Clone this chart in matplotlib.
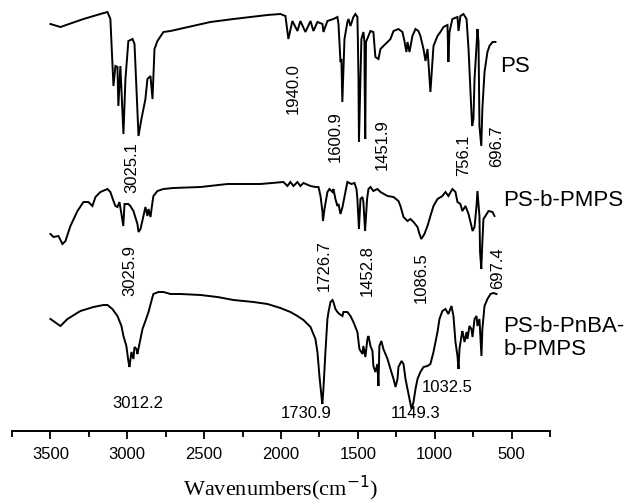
import matplotlib
matplotlib.use("Agg")
import matplotlib.pyplot as plt
from matplotlib.ticker import MultipleLocator

plt.rcParams['font.family'] = ['Liberation Sans', 'DejaVu Sans']

# ---------------- data (wavenumber cm^-1, transmittance a.u., stacked) ----------------
ps_w = [3500, 3435, 3285, 3175, 3129, 3110, 3090, 3077, 3064, 3058, 3045, 3025, 3012, 2993,
        2966, 2953, 2927, 2908, 2882, 2869, 2849, 2836, 2830, 2823, 2804, 2765, 2719, 2459,
        2309, 2088, 2004, 1971, 1952, 1926, 1893, 1874, 1841, 1808, 1789, 1763, 1730, 1724,
        1698, 1659, 1633, 1626, 1613, 1607, 1601, 1587, 1568, 1561, 1548, 1529, 1516, 1503,
        1500, 1496, 1493, 1477, 1464, 1457, 1456, 1452, 1447, 1418, 1399, 1386, 1366, 1353,
        1334, 1307, 1288, 1268, 1236, 1210, 1197, 1184, 1177, 1164, 1145, 1125, 1106, 1093,
        1073, 1060, 1047, 1041, 1028, 1015, 1008, 982, 963, 943, 917, 911, 904, 885, 852,
        845, 833, 813, 793, 780, 760, 756, 748, 741, 728, 722, 715, 709, 697, 690, 676, 657,
        644, 624, 605]
ps_t = [407, 404, 412, 417, 419, 412, 345, 365, 364, 325, 365, 297, 352, 390,
        392, 387, 295, 312, 332, 352, 355, 332, 355, 382, 390, 399, 400, 409,
        412, 416, 417, 415, 392, 410, 400, 410, 399, 410, 400, 409, 407, 399,
        410, 412, 414, 407, 369, 372, 329, 392, 409, 412, 405, 414, 417, 414,
        392, 352, 289, 392, 399, 389, 352, 292, 389, 400, 399, 374, 372, 382,
        385, 389, 392, 400, 402, 399, 390, 379, 389, 379, 395, 402, 400, 395,
        382, 370, 382, 369, 339, 369, 385, 395, 399, 404, 406, 369, 399, 412, 414,
        400, 415, 417, 412, 382, 315, 305, 312, 352, 385, 402, 389, 305, 285, 322, 359, 379,
        385, 389, 389]

pmps_w = [3500, 3480, 3448, 3422, 3402, 3370, 3324, 3285, 3253, 3227, 3207, 3175, 3129, 3110,
          3090, 3077, 3064, 3051, 3038, 3026, 3018, 2993, 2980, 2960, 2934, 2927, 2914, 2895,
          2882, 2869, 2862, 2849, 2836, 2830, 2804, 2765, 2700, 2524, 2348, 2134, 1984, 1958,
          1939, 1919, 1893, 1874, 1854, 1808, 1776, 1756, 1743, 1730, 1727, 1717, 1698, 1685,
          1665, 1659, 1646, 1633, 1626, 1613, 1600, 1581, 1568, 1542, 1522, 1509, 1503, 1493,
          1483, 1470, 1464, 1453, 1440, 1431, 1418, 1399, 1373, 1353, 1307, 1268, 1236, 1223,
          1203, 1177, 1158, 1138, 1112, 1099, 1087, 1067, 1047, 1028, 1008, 982, 950, 930, 911,
          885, 865, 852, 833, 820, 800, 780, 761, 754, 741, 728, 722, 709, 705, 697, 690, 683,
          670, 650, 624, 611]
pmps_t = [197, 194, 195, 187, 190, 205, 220, 229, 229, 225, 234, 239, 242, 239,
          230, 225, 224, 229, 217, 205, 227, 227, 225, 220, 207, 199, 202, 215,
          224, 215, 222, 214, 229, 235, 240, 242, 243, 244, 247, 247, 249, 245,
          249, 245, 249, 245, 248, 245, 244, 244, 235, 219, 210, 222, 239, 242,
          239, 242, 232, 225, 227, 217, 224, 239, 249, 247, 248, 242, 232, 202,
          232, 234, 229, 200, 232, 242, 244, 240, 242, 239, 235, 234, 230, 225,
          214, 210, 212, 209, 204, 197, 192, 197, 205, 215, 225, 232, 235, 239, 235,
          242, 239, 229, 227, 220, 225, 217, 205, 200, 204, 225, 240, 215, 179, 162, 189, 212,
          215, 220, 219, 215]

pnba_w = [3500, 3435, 3389, 3305, 3220, 3155, 3129, 3097, 3064, 3038, 3025, 3006, 2993, 2986,
          2973, 2960, 2953, 2940, 2934, 2921, 2901, 2882, 2862, 2836, 2830, 2797, 2765, 2719,
          2654, 2524, 2413, 2309, 2179, 2088, 2004, 1939, 1893, 1854, 1808, 1776, 1763, 1750,
          1737, 1731, 1724, 1711, 1698, 1691, 1678, 1665, 1659, 1646, 1633, 1620, 1600, 1594,
          1568, 1548, 1529, 1503, 1490, 1470, 1464, 1451, 1438, 1431, 1418, 1405, 1399, 1386,
          1373, 1366, 1360, 1347, 1334, 1307, 1288, 1268, 1255, 1242, 1236, 1216, 1203, 1190,
          1177, 1164, 1151, 1138, 1125, 1112, 1093, 1073, 1047, 1028, 1008, 982, 969, 950, 930,
          911, 891, 878, 865, 852, 845, 839, 826, 820, 806, 793, 787, 774, 761, 754, 741, 728,
          722, 709, 696, 690, 676, 657, 637, 618, 598]
pnba_t = [112, 105, 112, 120, 124, 126, 126, 122, 115, 105, 95, 85, 70, 64,
          79, 72, 84, 82, 77, 87, 102, 110, 119, 134, 137, 139, 139, 137,
          137, 136, 134, 131, 129, 127, 123, 119, 115, 111, 104, 92, 79, 55,
          35, 27, 42, 79, 112, 119, 129, 131, 129, 122, 119, 117, 115, 119,
          119, 115, 109, 99, 82, 77, 85, 74, 92, 95, 85, 80, 65, 59,
          67, 45, 85, 90, 82, 72, 62, 52, 44, 52, 64, 70, 67, 52,
          42, 32, 22, 29, 42, 52, 59, 64, 65, 67, 79, 99, 112, 120, 122,
          117, 125, 115, 89, 75, 62, 82, 95, 100, 89, 99, 92, 105, 102, 94, 112, 115,
          105, 112, 75, 102, 125, 132, 137, 138, 137]

series_names = ['PS', 'PS-b-PMPS', 'PS-b-PnBA-\nb-PMPS']
series_label_pos = [(572, 366), (553, 232), (553, 94)]

# peak annotations: (text, wavenumber, y position)
ps_peaks = [('3025.1', 2973, 264), ('1940.0', 1919, 343), ('1600.9', 1646, 295),
            ('1451.9', 1340, 287), ('756.1', 813, 277), ('696.7', 598, 286)]
pmps_peaks = [('3025.9', 2986, 161), ('1726.7', 1717, 166), ('1452.8', 1438, 161),
              ('1086.5', 1086, 154), ('697.4', 592, 164)]
pnba_peaks = [('3012.2', 2934, 28), ('1730.9', 1834, 18), ('1149.3', 1125, 18),
              ('1032.5', 917, 44)]

x_major = [3500, 3000, 2500, 2000, 1500, 1000, 500]

# ---------------- plot ----------------
fig = plt.figure(figsize=(6.27, 5.02), dpi=100)
ax = fig.add_axes([12 / 627, 70 / 502, 538 / 627, 432 / 502])

for w, t in [(ps_w, ps_t), (pmps_w, pmps_t), (pnba_w, pnba_t)]:
    ax.plot(w, t, color='black', lw=1.4, solid_joinstyle='miter')

ax.set_xlim(3750, 250)
ax.set_ylim(0, 432)

for s in ['left', 'right', 'top']:
    ax.spines[s].set_visible(False)
ax.spines['bottom'].set_linewidth(1.4)
ax.set_yticks([])
ax.set_xticks(x_major)
ax.xaxis.set_minor_locator(MultipleLocator(250))
ax.tick_params(axis='x', which='major', direction='out', length=6, width=1.3,
               labelsize=12, pad=5)
ax.tick_params(axis='x', which='minor', direction='out', length=4, width=1.3)

for (name, (xp, yp)) in zip(series_names, series_label_pos):
    ax.text(xp, yp, name, fontsize=16, ha='left', va='center', linespacing=1.15)

for txt, xw, yv in ps_peaks + pmps_peaks:
    ax.text(xw, yv, txt, fontsize=12, rotation=90, ha='center', va='center')
for txt, xw, yv in pnba_peaks:
    ax.text(xw, yv, txt, fontsize=12, ha='center', va='center')

ax.set_xlabel('Wavenumbers(cm$^{-1}$)', fontsize=16, family='Liberation Serif', labelpad=8)

fig.savefig('out.png', dpi=100)
